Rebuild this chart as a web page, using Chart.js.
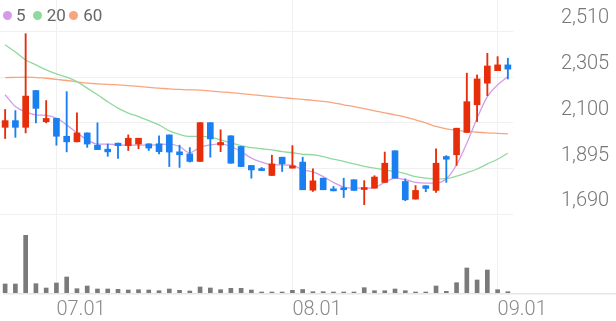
<!DOCTYPE html>
<html><head><meta charset="utf-8">
<script src="https://cdn.jsdelivr.net/npm/chart.js@4.4.1/dist/chart.umd.min.js"></script>
<style>
html,body{margin:0;padding:0;background:#fff;}
#wrap{position:relative;width:616px;height:321px;overflow:hidden;}
canvas{display:block;}
.dot{position:absolute;width:9px;height:9px;border-radius:50%;top:11px;}
.txt{position:absolute;top:7px;font-family:Roboto,sans-serif;font-size:17px;line-height:17px;color:#666;}
</style></head>
<body>
<div id="wrap">
<canvas id="c" width="616" height="321"></canvas>
<span class="dot" style="left:2.5px;background:#d69be8"></span><span class="txt" style="left:16px">5</span>
<span class="dot" style="left:32.7px;background:#90d99c"></span><span class="txt" style="left:46.7px">20</span>
<span class="dot" style="left:69.3px;background:#f8a57e"></span><span class="txt" style="left:83.3px">60</span>
</div>
<script>
const dates = ['06.24','06.25','06.26','06.27','06.28',
 '07.01','07.02','07.03','07.04','07.05','07.08','07.09','07.10','07.11','07.12','07.15','07.16','07.17','07.18','07.19','07.22','07.23','07.24','07.25','07.26','07.29','07.30','07.31',
 '08.01','08.02','08.05','08.06','08.07','08.08','08.09','08.12','08.13','08.14','08.16','08.19','08.20','08.21','08.22','08.23','08.26','08.27','08.28','08.29',
 '09.02','09.03'];
const open  = [2080,2110,2080,2245,2105,2120,2040,2015,2055,2000,1982,2009,1998,2005,2006,2006,2046,1970,1961,1927,2101,2001,2042,1994,1909,1892,1864,1946,1897,1924,1798,1852,1804,1804,1845,1801,1807,1833,1975,1837,1758,1818,1797,1949,1957,2057,2181,2278,2334,2360];
const high  = [2160,2155,2500,2245,2200,2120,2240,2145,2055,2100,2005,2009,2046,2031,2006,2042,2046,2000,1989,2101,2101,2069,2042,1994,1909,1900,1955,1946,1998,1946,1894,1852,1815,1852,1845,1841,1863,1969,1975,1849,1819,1818,1984,1953,2076,2323,2315,2412,2397,2390];
const low   = [2030,2035,2055,2100,2100,2000,1970,2015,1990,1980,1950,1940,1976,1984,1976,1961,1904,1900,1924,1927,1946,1971,1919,1904,1852,1886,1864,1882,1897,1800,1792,1800,1795,1765,1797,1733,1807,1833,1852,1751,1758,1791,1788,1833,1909,2057,2106,2222,2334,2297];
const close = [2110,2080,2220,2165,2120,2040,2015,2055,2005,1980,1970,1998,2031,2031,1987,1971,1969,1957,1927,2101,2028,2012,1919,1904,1889,1886,1916,1916,1907,1800,1840,1800,1795,1800,1797,1809,1857,1919,1852,1755,1797,1806,1919,1937,2076,2195,2297,2355,2360,2341];
const ma5  = [2226,2173,2149,2136,2134,2121,2091,2055,2024,2005,2005,2001,2000,2000,2000,2003,2005,1994,1966,1991,2001,2006,1994,1971,1942,1924,1912,1912,1910,1889,1880,1859,1833,1812,1807,1807,1810,1833,1852,1845,1833,1830,1830,1849,1912,2009,2121,2218,2270,2308];
const ma20 = [2450,2418,2382,2360,2338,2320,2305,2285,2256,2226,2195,2166,2144,2128,2110,2091,2064,2048,2039,2039,2036,2024,2010,1998,1989,1984,1979,1971,1966,1959,1957,1949,1937,1927,1916,1905,1897,1889,1882,1872,1859,1852,1849,1850,1861,1876,1893,1916,1937,1964];
const ma60 = [2303,2304,2305,2303,2300,2295,2290,2284,2278,2275,2273,2270,2267,2264,2259,2256,2252,2250,2248,2247,2243,2239,2236,2231,2227,2222,2218,2213,2209,2205,2201,2196,2190,2181,2173,2164,2154,2145,2136,2126,2113,2100,2084,2073,2066,2062,2058,2055,2053,2051];
const volume = [180,180,1154,186,100,200,320,86,140,80,80,74,60,66,60,46,80,54,40,120,100,66,94,94,60,20,20,20,54,70,26,26,20,20,20,106,46,46,80,46,20,20,140,34,206,500,260,460,66,26];
const priceTicks = [1690,1895,2100,2305,2510];

const RED = '#e62e0a', BLUE = '#1a7ff0';
const candleColor = open.map((o,i) => close[i] >= o ? RED : BLUE);
const monthIdx = dates.map((d,i) => (i > 0 && d.slice(0,2) !== dates[i-1].slice(0,2)) ? i : -1).filter(i => i >= 0);

const baseline = {
  id: 'baseline',
  beforeDatasetsDraw(chart) {
    const {ctx, chartArea} = chart;
    const y = chart.scales.v.getPixelForValue(0);
    ctx.save();
    ctx.strokeStyle = '#e6e6e6';
    ctx.lineWidth = 1.5;
    ctx.beginPath();
    ctx.moveTo(chartArea.left + 3, y + 0.75);
    ctx.lineTo(chart.width, y + 0.75);
    ctx.stroke();
    ctx.restore();
  }
};

const axisFont = {family: 'Roboto', size: 20, weight: '300'};

new Chart(document.getElementById('c'), {
  type: 'bar',
  data: {
    labels: dates,
    datasets: [
      {label: 'wick', data: low.map((l,i) => [l, high[i]]), backgroundColor: candleColor, barThickness: 1.2, grouped: false, yAxisID: 'y', order: 1},
      {label: 'body', data: open.map((o,i) => [o, close[i]]), backgroundColor: candleColor, barThickness: 6, minBarLength: 2, grouped: false, yAxisID: 'y', order: 0},
      {type: 'line', label: '5', data: ma5, borderColor: '#d69be8', borderWidth: 1.3, pointRadius: 0, cubicInterpolationMode: 'monotone', yAxisID: 'y', order: 2},
      {type: 'line', label: '20', data: ma20, borderColor: '#90d99c', borderWidth: 1.3, pointRadius: 0, cubicInterpolationMode: 'monotone', yAxisID: 'y', order: 3},
      {type: 'line', label: '60', data: ma60, borderColor: '#f8a57e', borderWidth: 1.3, pointRadius: 0, cubicInterpolationMode: 'monotone', yAxisID: 'y', order: 4},
      {label: 'vol', data: volume, backgroundColor: '#7a7a7a', barThickness: 4, grouped: false, yAxisID: 'v', order: 5}
    ]
  },
  options: {
    responsive: false,
    animation: false,
    devicePixelRatio: 1,
    layout: {padding: {left: 0, right: 7, top: 0, bottom: 0}},
    plugins: {legend: {display: false}, tooltip: {enabled: false}},
    scales: {
      x: {
        offset: true,
        grid: {offset: false, color: '#f0f0f0', drawTicks: false},
        border: {display: false},
        afterBuildTicks: ax => { ax.ticks = ax.ticks.filter(t => monthIdx.includes(t.value)); },
        ticks: {autoSkip: false, maxRotation: 0, align: 'start', padding: 5, color: '#888', font: axisFont,
          callback: v => dates[v].slice(0,2) + '.01'},
        afterFit: ax => { ax.height = 28; ax.paddingLeft = 0; ax.paddingRight = 0; }
      },
      y: {
        position: 'right',
        min: 1337, max: 2651,
        afterBuildTicks: ax => { ax.ticks = priceTicks.map(v => ({value: v})); },
        grid: {color: '#f0f0f0', drawTicks: false},
        border: {display: false},
        ticks: {crossAlign: 'near', padding: 48, labelOffset: -13, color: '#777', font: axisFont,
          callback: v => v.toLocaleString('en-US')},
        afterFit: ax => { ax.width = 96; ax.paddingTop = 0; ax.paddingBottom = 0; }
      },
      v: {display: false, min: 0, max: 5860}
    }
  },
  plugins: [baseline]
});
</script>
</body></html>
